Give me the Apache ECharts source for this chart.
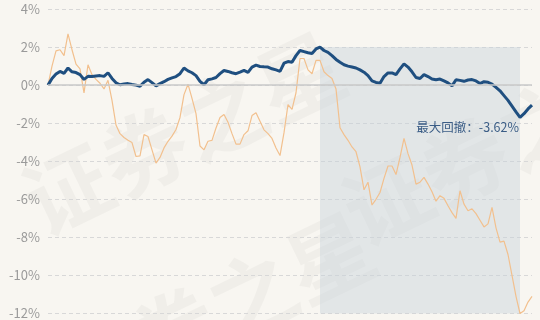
<!DOCTYPE html>
<html><head><meta charset="utf-8">
<script src="https://cdn.jsdelivr.net/npm/echarts@6/dist/echarts.min.js"></script>
<style>html,body{margin:0;padding:0;background:#f8f6f1}#c{width:540px;height:320px}</style>
</head><body><div id="c"></div>
<script>
const fundValues = [0.00,0.35,0.58,0.72,0.62,0.90,0.70,0.66,0.55,0.30,0.46,0.45,0.48,0.50,0.46,0.65,0.35,0.12,0.02,0.06,
0.08,0.03,0.00,-0.06,0.15,0.29,0.13,-0.04,0.08,0.18,0.30,0.38,0.45,0.60,0.90,0.75,0.65,0.50,0.20,0.02,
0.28,0.33,0.40,0.60,0.77,0.72,0.65,0.60,0.68,0.77,0.67,0.95,1.05,0.98,0.96,0.95,0.86,0.80,0.72,1.15,
1.24,1.20,1.55,1.82,1.76,1.70,1.66,1.90,2.00,1.82,1.72,1.55,1.35,1.20,1.07,1.00,0.95,0.90,0.80,0.68,
0.50,0.22,0.14,0.10,0.45,0.64,0.64,0.55,0.85,1.12,0.95,0.70,0.40,0.35,0.55,0.45,0.32,0.28,0.32,0.22,
0.12,-0.04,0.28,0.25,0.20,0.27,0.29,0.22,0.08,0.18,0.15,0.05,-0.12,-0.30,-0.55,-0.80,-1.10,-1.40,-1.69,-1.50,
-1.25,-1.05];
const benchValues = [0.00,1.00,1.80,1.86,1.55,2.69,1.86,1.10,0.85,-0.41,1.07,0.55,0.30,0.10,-0.20,0.25,-0.80,-2.10,-2.55,-2.75,
-2.90,-3.02,-3.75,-3.72,-2.60,-2.70,-3.40,-4.10,-3.80,-3.30,-2.95,-2.68,-2.33,-1.70,-0.50,0.05,-0.70,-1.50,-3.20,-3.40,
-2.95,-2.90,-2.25,-1.70,-1.54,-1.95,-2.55,-3.10,-3.10,-2.60,-2.40,-1.60,-1.45,-1.90,-2.35,-2.55,-2.80,-3.30,-3.70,-2.50,
-1.02,-1.28,-0.40,1.40,1.40,0.80,0.60,1.30,1.30,0.70,0.50,0.35,-0.20,-2.24,-2.60,-2.90,-3.25,-3.50,-4.30,-5.50,
-5.10,-6.30,-6.00,-5.64,-4.90,-4.25,-4.25,-4.70,-3.80,-2.80,-3.60,-4.20,-5.20,-5.10,-4.85,-5.20,-5.60,-6.10,-5.81,-5.95,
-6.34,-6.70,-7.00,-5.55,-6.25,-6.60,-6.50,-6.75,-7.10,-7.45,-7.29,-6.42,-7.50,-8.25,-8.20,-8.90,-10.00,-11.10,-12.00,-11.85,
-11.40,-11.10];
const categories = fundValues.map((_, i) => 'D' + (i + 1));
const yTicks = [4, 2, 0, -2, -4, -6, -8, -10, -12];
const drawdownLabel = '最大回撤：-3.62%';
const peakIndex = 68, troughIndex = 118;

const chart = echarts.init(document.getElementById('c'));
const wm = (l, t) => ({type:'text', left: l, top: t, rotation: 0.45, z: -1, silent: true,
  style:{text:'证券之星', font:'bold 86px "Noto Sans CJK SC"', fill:'rgba(0,0,0,0.03)'}});
chart.setOption({
  backgroundColor: '#f8f6f1',
  animation: false,
  graphic: [wm(10, 20), wm(40, 200), wm(330, 30)],
  grid: {left: 48, right: 8, top: 9, bottom: 5},
  xAxis: {
    type: 'category', data: categories, boundaryGap: false,
    axisLine: {show: false}, axisTick: {show: false}, axisLabel: {show: false}, splitLine: {show: false}
  },
  yAxis: {
    type: 'value', min: -12, max: 4, interval: 2,
    axisLine: {show: false}, axisTick: {show: false},
    axisLabel: {formatter: v => yTicks.includes(v) ? v + '%' : '', color: '#9a9a9a', fontSize: 13, margin: 8,
      fontFamily: '"Noto Sans CJK SC", "Noto Sans", sans-serif'},
    splitLine: {lineStyle: {color: '#d8d8d8', type: [4, 3], width: 1}}
  },
  series: [
    {
      name: '基准', type: 'line', data: benchValues, symbol: 'none', z: 2,
      lineStyle: {color: '#f2c08e', width: 1.2},
      markLine: {silent: true, symbol: 'none', label: {show: false},
        lineStyle: {color: '#c8c8c8', type: 'solid', width: 1.5}, data: [{yAxis: 0}]}
    },
    {
      name: '本基金', type: 'line', data: fundValues, symbol: 'none', z: 3,
      lineStyle: {color: '#1f4f80', width: 3},
      markArea: {silent: true, itemStyle: {color: 'rgba(200,210,220,0.45)'},
        data: [[{coord: [categories[peakIndex], fundValues[peakIndex]]}, {coord: [categories[troughIndex], -12]}]]},
      markPoint: {symbol: 'circle', symbolSize: 0, silent: true,
        data: [{coord: [categories[troughIndex], fundValues[troughIndex]]}],
        label: {show: true, formatter: drawdownLabel, position: 'bottom', align: 'right',
          offset: [-1, -1], color: '#3b5d86', fontSize: 12.5,
          fontFamily: '"Noto Sans CJK SC", sans-serif'}}
    }
  ]
});
</script></body></html>
